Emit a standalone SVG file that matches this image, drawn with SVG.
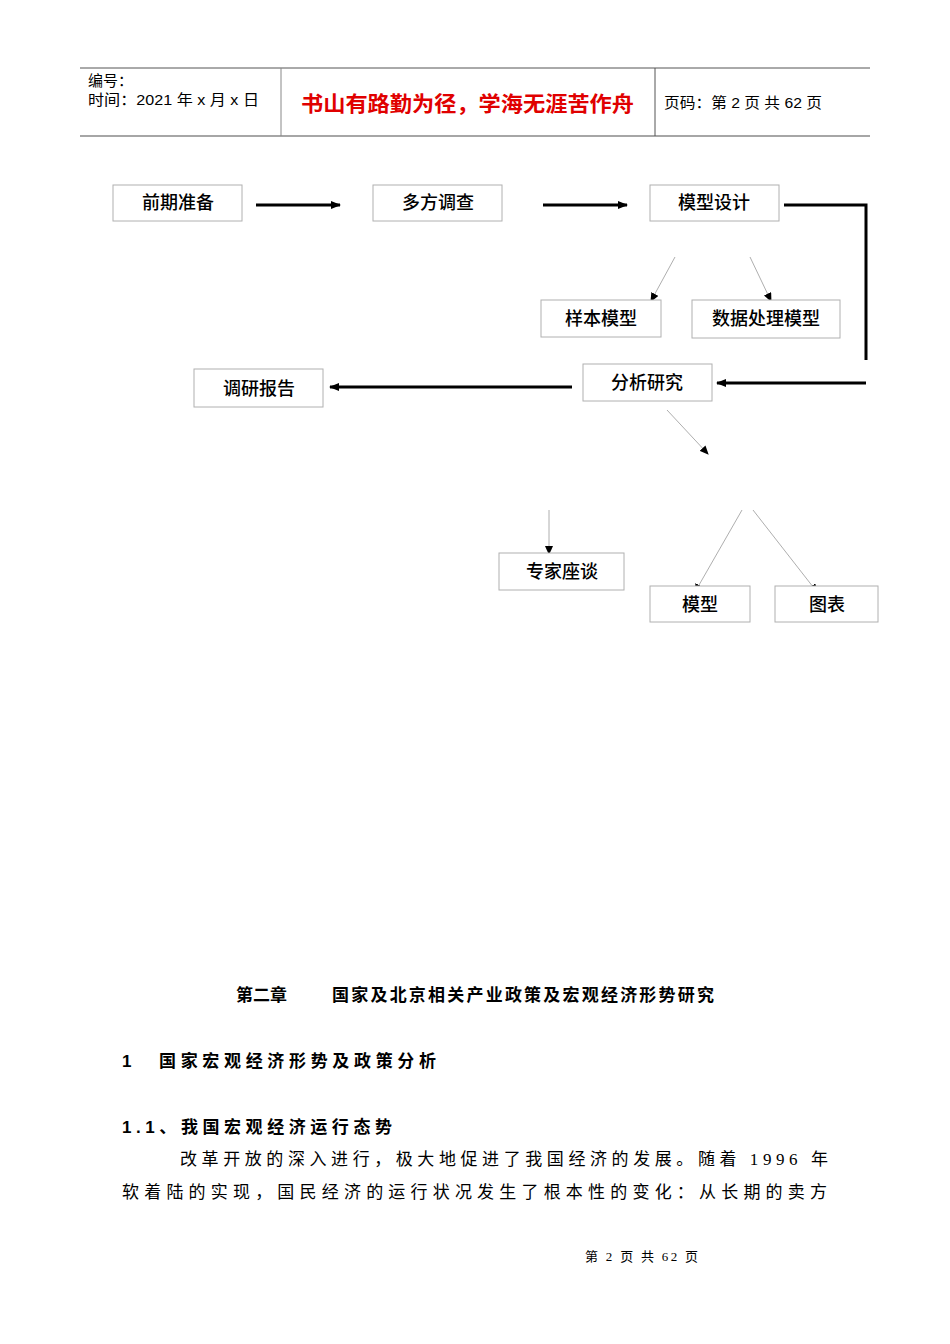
<svg xmlns="http://www.w3.org/2000/svg" width="950" height="1344" viewBox="0 0 950 1344">
<style>
text{font-family:"Liberation Sans","Noto Sans CJK SC",sans-serif;fill:#000}
.box{fill:#fff;stroke:#b0b0b0;stroke-width:1}
.n{font-size:18px;text-anchor:middle;font-weight:500}
.thick{stroke:#000;stroke-width:3;fill:none}
.thin{stroke:#999;stroke-width:0.8;fill:none}
.b{font-weight:bold}
.s{font-family:"Liberation Serif","Noto Sans CJK SC",serif}
</style>
<defs>
<marker id="ab" markerWidth="10" markerHeight="8" refX="9" refY="4" orient="auto" markerUnits="userSpaceOnUse"><path d="M0,0L10,4L0,8z" fill="#000"/></marker>
<marker id="as" markerWidth="9" markerHeight="8" refX="8" refY="4" orient="auto" markerUnits="userSpaceOnUse"><path d="M0,0L9,4L0,8z" fill="#000"/></marker>
</defs>
<g id="header">
<line x1="80" y1="68" x2="870" y2="68" stroke="#555" stroke-width="1"/>
<line x1="80" y1="136" x2="870" y2="136" stroke="#888" stroke-width="1.5"/>
<line x1="281" y1="68" x2="281" y2="136" stroke="#888"/>
<line x1="655" y1="68" x2="655" y2="136" stroke="#555"/>
<text x="88" y="86" font-size="15">编号：</text>
<text x="88" y="105" font-size="15" textLength="171" lengthAdjust="spacingAndGlyphs">时间：2021 年 x 月 x 日</text>
<text x="301" y="111" font-size="21" textLength="333" lengthAdjust="spacingAndGlyphs" style="fill:#e00000" class="b">书山有路勤为径，学海无涯苦作舟</text>
<text x="664" y="108" font-size="15" textLength="158" lengthAdjust="spacingAndGlyphs">页码：第 2 页  共 62 页</text>
</g>
<g id="connectors">
<line class="thick" x1="256" y1="205" x2="340" y2="205" marker-end="url(#ab)"/>
<line class="thick" x1="543" y1="205" x2="627" y2="205" marker-end="url(#ab)"/>
<polyline class="thick" points="784,205 866,205 866,360"/>
<line class="thick" x1="866" y1="383" x2="717" y2="383" marker-end="url(#ab)"/>
<line class="thick" x1="572" y1="387" x2="330" y2="387" marker-end="url(#ab)"/>
<line class="thin" x1="675" y1="257" x2="651" y2="301" marker-end="url(#as)"/>
<line class="thin" x1="750" y1="257" x2="771" y2="301" marker-end="url(#as)"/>
<line class="thin" x1="667" y1="410" x2="708" y2="454" marker-end="url(#as)"/>
<line class="thin" x1="549" y1="510" x2="549" y2="554" marker-end="url(#as)"/>
<line class="thin" x1="742" y1="510" x2="695" y2="592" marker-end="url(#as)"/>
<line class="thin" x1="753" y1="510" x2="817" y2="592" marker-end="url(#as)"/>
</g>
<g id="n1"><rect class="box" x="113" y="185" width="129" height="36"/><text class="n" x="178" y="209">前期准备</text></g>
<g id="n2"><rect class="box" x="373" y="185" width="129" height="36"/><text class="n" x="438" y="209">多方调查</text></g>
<g id="n3"><rect class="box" x="650" y="185" width="129" height="36"/><text class="n" x="714" y="209">模型设计</text></g>
<g id="n4"><rect class="box" x="541" y="300" width="120" height="37"/><text class="n" x="601" y="325">样本模型</text></g>
<g id="n5"><rect class="box" x="692" y="300" width="148" height="38"/><text class="n" x="766" y="325">数据处理模型</text></g>
<g id="n6"><rect class="box" x="583" y="364" width="129" height="37"/><text class="n" x="647" y="389">分析研究</text></g>
<g id="n7"><rect class="box" x="194" y="369" width="129" height="38"/><text class="n" x="259" y="395">调研报告</text></g>
<g id="n8"><rect class="box" x="499" y="553" width="125" height="37"/><text class="n" x="562" y="578">专家座谈</text></g>
<g id="n9"><rect class="box" x="650" y="586" width="100" height="36"/><text class="n" x="700" y="611">模型</text></g>
<g id="n10"><rect class="box" x="775" y="586" width="103" height="36"/><text class="n" x="827" y="611">图表</text></g>
<g id="body">
<text x="236" y="1001" font-size="17" class="b">第二章</text>
<text x="332" y="1001" font-size="17" class="b" textLength="382" lengthAdjust="spacing">国家及北京相关产业政策及宏观经济形势研究</text>
<text x="122" y="1067" font-size="17" class="b">1</text>
<text x="159" y="1067" font-size="17" class="b" textLength="277" lengthAdjust="spacing">国家宏观经济形势及政策分析</text>
<text x="122" y="1133" font-size="17" class="b" textLength="270" lengthAdjust="spacing">1.1、我国宏观经济运行态势</text>
<text x="180" y="1165" font-size="17" class="s" textLength="648" lengthAdjust="spacing">改革开放的深入进行，极大地促进了我国经济的发展。随着 1996 年</text>
<text x="122" y="1198" font-size="17" class="s" textLength="705" lengthAdjust="spacing">软着陆的实现，国民经济的运行状况发生了根本性的变化：从长期的卖方</text>
<text x="585" y="1261" font-size="13" class="s" textLength="113" lengthAdjust="spacing">第 2 页 共 62 页</text>
</g>
</svg>
